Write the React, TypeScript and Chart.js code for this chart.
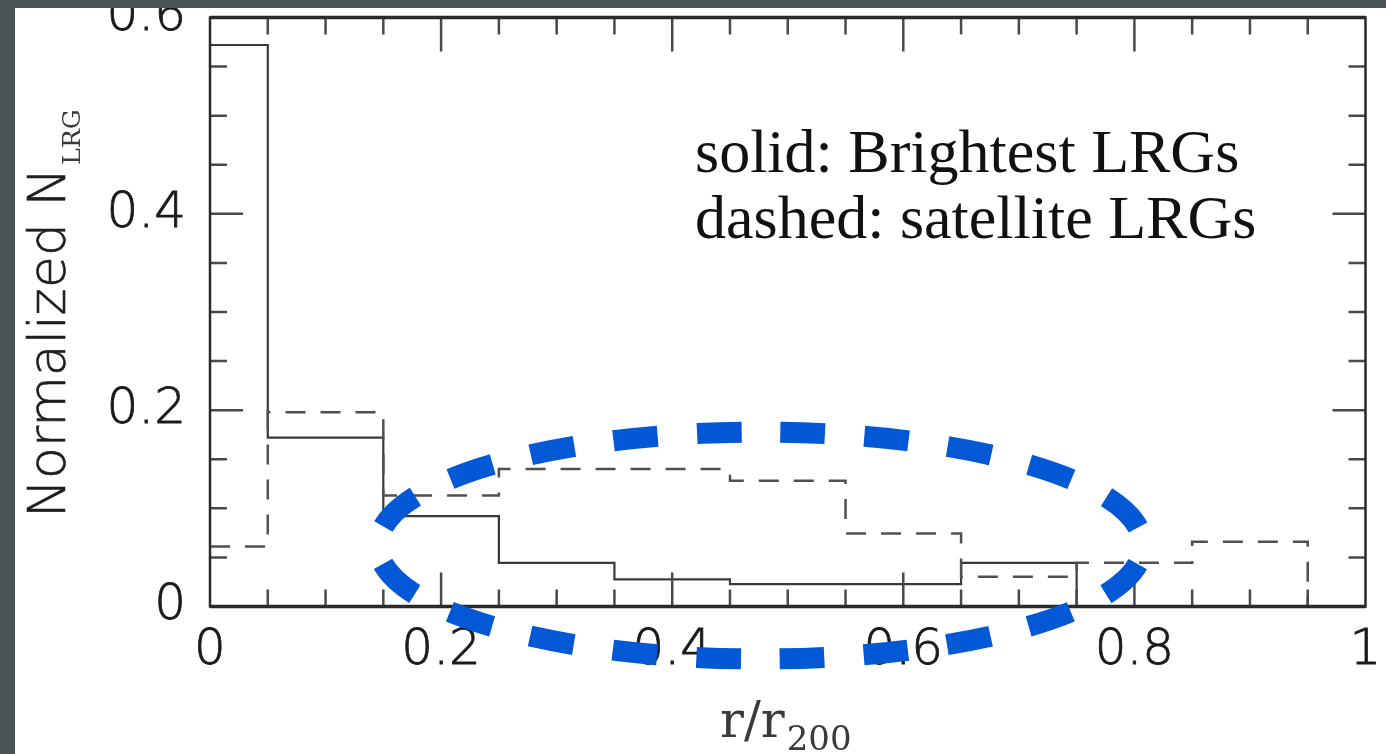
import React, { useEffect, useRef } from 'react';
import { Chart, registerables } from 'chart.js';

Chart.register(...registerables);

// ---- data ----
const binEdges = [0, 0.05, 0.15, 0.25, 0.35, 0.45, 0.55, 0.65, 0.75, 0.85, 0.95];
const brightestLRGs = [0.572, 0.172, 0.092, 0.0445, 0.0276, 0.0228, 0.0228, 0.0445, 0, 0];
const satelliteLRGs = [0.061, 0.198, 0.113, 0.14, 0.14, 0.128, 0.0743, 0.0303, 0.0445, 0.066];
const xTickValues = [0, 0.2, 0.4, 0.6, 0.8, 1];
const yTickValues = [0, 0.2, 0.4, 0.6];
const xTickLabels = ['0', '0.2', '0.4', '0.6', '0.8', '1'];
const yTickLabels = ['0', '0.2', '0.4', '0.6'];
const legendLines = ['solid: Brightest LRGs', 'dashed: satellite LRGs'];
const yTitleMain = 'Normalized N';
const yTitleSub = 'LRG';
const xTitleMain = 'r/r';
const xTitleSub = '200';

const W = 1386;
const H = 754;
const TICK_FAMILY = '"DejaVu Sans ExtraLight", "DejaVu Sans Light", "DejaVu Sans"';

function stepPoints(vals: number[]) {
  let last = vals.length;
  while (last > 0 && vals[last - 1] === 0) last--;
  const pts: { x: number; y: number }[] = [];
  for (let i = 0; i < last; i++) pts.push({ x: binEdges[i], y: vals[i] });
  pts.push({ x: binEdges[last], y: vals[last - 1] });
  pts.push({ x: binEdges[last], y: 0 });
  return pts;
}

const decorPlugin = {
  id: 'decor',
  beforeDraw(chart: any) {
    const ctx = chart.ctx;
    ctx.save();
    ctx.fillStyle = '#ffffff';
    ctx.fillRect(0, 0, W, H);
    ctx.restore();
  },
  afterDraw(chart: any) {
    const ctx = chart.ctx as CanvasRenderingContext2D;
    const { left, right, top, bottom } = chart.chartArea;
    const xs = chart.scales.x;
    const ys = chart.scales.y;
    ctx.save();

    // minor / major ticks on all four sides (inward)
    ctx.strokeStyle = '#4a4a4a';
    ctx.lineWidth = 2.5;
    const isMajor = (v: number) => Math.abs(v / 0.2 - Math.round(v / 0.2)) < 1e-6;
    for (let k = 1; k < 20; k++) {
      const v = k * 0.05;
      const px = xs.getPixelForValue(v);
      const len = isMajor(v) ? 34 : 17;
      ctx.beginPath();
      ctx.moveTo(px, bottom);
      ctx.lineTo(px, bottom - len);
      ctx.moveTo(px, top);
      ctx.lineTo(px, top + len);
      ctx.stroke();
    }
    for (let k = 1; k < 12; k++) {
      const v = k * 0.05;
      const py = ys.getPixelForValue(v);
      const len = isMajor(v) ? 33 : 17;
      ctx.beginPath();
      ctx.moveTo(left, py);
      ctx.lineTo(left + len, py);
      ctx.moveTo(right, py);
      ctx.lineTo(right - len, py);
      ctx.stroke();
    }

    // frame
    ctx.strokeStyle = '#2a2a2a';
    ctx.lineWidth = 2.5;
    ctx.strokeRect(left, top, right - left, bottom - top);
    ctx.lineWidth = 3.5;
    ctx.beginPath();
    ctx.moveTo(left, bottom);
    ctx.lineTo(right, bottom);
    ctx.moveTo(left, top);
    ctx.lineTo(right, top);
    ctx.stroke();

    // legend text
    ctx.fillStyle = '#111111';
    ctx.font = '62px "Liberation Serif"';
    ctx.textAlign = 'left';
    ctx.textBaseline = 'alphabetic';
    ctx.fillText(legendLines[0], 695, 172);
    ctx.fillText(legendLines[1], 695, 238);

    // y title (rotated)
    ctx.save();
    ctx.translate(65, 518);
    ctx.rotate(-Math.PI / 2);
    ctx.fillStyle = '#1e1e1e';
    ctx.font = '200 52px ' + TICK_FAMILY;
    ctx.fillText(yTitleMain, 0, 0);
    ctx.lineWidth = 0.6;
    ctx.strokeStyle = '#1e1e1e';
    ctx.strokeText(yTitleMain, 0, 0);
    const wMain = ctx.measureText(yTitleMain).width;
    ctx.font = '25px "DejaVu Serif"';
    ctx.fillStyle = '#3a3a3a';
    ctx.fillText(yTitleSub, wMain + 3, 15);
    ctx.restore();

    // x title
    ctx.fillStyle = '#3a3a3a';
    ctx.font = '50px "DejaVu Serif"';
    ctx.fillText(xTitleMain, 720, 737);
    const wx = ctx.measureText(xTitleMain).width;
    ctx.font = '34px "DejaVu Serif"';
    ctx.fillText(xTitleSub, 720 + wx + 2, 750);

    // blue dashed ellipse annotation
    const cx = 760.5, cy = 545.5, rx = 382.5, ry = 113.5;
    const h = Math.pow((rx - ry) / (rx + ry), 2);
    const perim = Math.PI * (rx + ry) * (1 + (3 * h) / (10 + Math.sqrt(4 - 3 * h)));
    const period = perim / 20;
    const dash = period * 0.53;
    const gap = period - dash;
    ctx.strokeStyle = '#0358d5';
    ctx.lineWidth = 21;
    ctx.lineCap = 'butt';
    ctx.setLineDash([dash, gap]);
    ctx.lineDashOffset = dash + gap / 2;
    ctx.beginPath();
    ctx.ellipse(cx, cy, rx, ry, 0, 0, Math.PI * 2);
    ctx.stroke();
    ctx.setLineDash([]);

    // slide background strips
    ctx.fillStyle = '#4a5356';
    ctx.fillRect(0, 0, W, 8);
    ctx.fillRect(0, 0, 15, H);

    ctx.restore();
  },
};

export default function App() {
  const canvasRef = useRef<HTMLCanvasElement | null>(null);

  useEffect(() => {
    document.body.style.margin = '0';
    const canvas = canvasRef.current;
    if (!canvas) return;
    const chart = new Chart(canvas, {
      type: 'line',
      data: {
        datasets: [
          {
            label: 'satellite LRGs',
            data: stepPoints(satelliteLRGs),
            borderColor: '#505050',
            borderWidth: 2.5,
            borderDash: [20, 15],
            stepped: 'before',
            pointRadius: 0,
            fill: false,
          },
          {
            label: 'Brightest LRGs',
            data: stepPoints(brightestLRGs),
            borderColor: '#3a3a3a',
            borderWidth: 2.2,
            stepped: 'before',
            pointRadius: 0,
            fill: false,
          },
        ],
      },
      options: {
        responsive: false,
        animation: false,
        devicePixelRatio: 1,
        layout: { padding: { left: 0, top: 17.5, right: 20.5, bottom: 0 } },
        plugins: { legend: { display: false }, tooltip: { enabled: false } },
        scales: {
          x: {
            type: 'linear',
            min: 0,
            max: 1,
            grid: { display: false, drawTicks: false },
            border: { display: false },
            afterBuildTicks: (scale: any) => {
              scale.ticks = xTickValues.map((v) => ({ value: v }));
            },
            afterFit: (scale: any) => {
              scale.height = H - 606.5;
              scale.paddingLeft = 0;
              scale.paddingRight = 0;
            },
            ticks: {
              maxRotation: 0,
              autoSkip: false,
              padding: 15,
              color: '#1a1a1a',
              textStrokeColor: '#1a1a1a',
              textStrokeWidth: 0.8,
              font: { family: TICK_FAMILY, size: 50, weight: '200' as any },
              callback: (_v: any, i: number) => xTickLabels[i],
            },
          },
          y: {
            type: 'linear',
            min: 0,
            max: 0.6,
            grid: { display: false, drawTicks: false },
            border: { display: false },
            afterBuildTicks: (scale: any) => {
              scale.ticks = yTickValues.map((v) => ({ value: v }));
            },
            afterFit: (scale: any) => {
              scale.width = 210;
              scale.paddingTop = 0;
              scale.paddingBottom = 0;
            },
            ticks: {
              autoSkip: false,
              padding: 24,
              color: '#1a1a1a',
              textStrokeColor: '#1a1a1a',
              textStrokeWidth: 0.8,
              font: { family: TICK_FAMILY, size: 50, weight: '200' as any },
              callback: (_v: any, i: number) => yTickLabels[i],
            },
          },
        },
      },
      plugins: [decorPlugin],
    });
    return () => chart.destroy();
  }, []);

  return (
    <div style={{ position: 'fixed', left: 0, top: 0, width: W, height: H, overflow: 'hidden', background: '#fff' }}>
      <canvas ref={canvasRef} width={W} height={H} style={{ display: 'block', width: W, height: H }} />
    </div>
  );
}
